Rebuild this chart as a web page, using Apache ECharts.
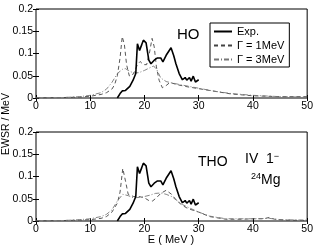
<!DOCTYPE html>
<html><head><meta charset="utf-8">
<script src="https://cdn.jsdelivr.net/npm/echarts@6/dist/echarts.min.js"></script>
<style>html,body{margin:0;padding:0;background:#fff}#c{width:316px;height:249px}</style>
</head><body><div id="c"></div>
<script>
var xTicks = [0, 10, 20, 30, 40, 50];
var yTicks = [0, 0.05, 0.1, 0.15, 0.2];
var seriesNames = ['Exp.', '\u0393 = 1MeV', '\u0393 = 3MeV'];
var panelLabels = ['HO', 'THO'];

var expE = [15,15.5,15.9,16.5,17.3,17.9,18.4,18.7,19.1,19.5,19.8,20.3,20.8,21.2,21.8,22.4,23,23.4,24,24.9,25.4,25.8,26.4,27,27.5,27.8,28.3,28.6,29,29.4,30];
var expV = [0,0.01,0.016,0.017,0.026,0.04,0.055,0.122,0.107,0.12,0.13,0.124,0.085,0.077,0.085,0.09,0.09,0.081,0.096,0.113,0.095,0.077,0.055,0.041,0.046,0.04,0.046,0.038,0.049,0.036,0.041];

var hoG1E = [0,5,8,10,12,13,14,14.5,15,15.5,15.9,16.3,16.7,17.2,17.7,18.2,18.7,19.2,19.8,20.4,20.9,21.4,21.8,22.2,22.7,23.3,24,24.7,26,28,30,33,36,40,45,50];
var hoG1V = [0,0.001,0.002,0.004,0.008,0.012,0.02,0.03,0.05,0.09,0.138,0.12,0.075,0.05,0.05,0.06,0.075,0.082,0.075,0.075,0.1,0.134,0.115,0.07,0.04,0.023,0.028,0.035,0.03,0.025,0.021,0.015,0.009,0.005,0.003,0.003];

var hoG3E = [0,5,8,10,12,13,14,15,16,16.5,17,18,19,20,21,21.7,22.3,23,24,25,27,30,33,36,40,45,50];
var hoG3V = [0,0.001,0.003,0.006,0.012,0.02,0.035,0.055,0.065,0.066,0.062,0.056,0.057,0.062,0.068,0.072,0.063,0.045,0.037,0.034,0.029,0.022,0.015,0.01,0.006,0.003,0.002];

var thoG1E = [0,5,8,10,12,13,14,15,15.5,16,16.5,17,18,19,20,20.8,21.5,22.2,23,24,25,26,27,28,30,32,35,38,40,42,43,44,46,50];
var thoG1V = [0,0.001,0.002,0.003,0.006,0.01,0.02,0.04,0.065,0.118,0.09,0.06,0.055,0.055,0.052,0.046,0.045,0.052,0.062,0.069,0.06,0.045,0.035,0.028,0.02,0.01,0.004,0.004,0.005,0.005,0.008,0.004,0.002,0.001];

var thoG3E = [0,5,8,10,12,13,14,15,16,17,18,19,20,21,22,23,24,25,26,27,28,30,32,35,38,40,43,45,50];
var thoG3V = [0,0.001,0.003,0.005,0.01,0.015,0.025,0.045,0.06,0.057,0.052,0.053,0.055,0.058,0.062,0.063,0.06,0.055,0.046,0.037,0.031,0.02,0.011,0.005,0.005,0.005,0.006,0.003,0.002];

function zip(a, b) { return a.map(function (v, i) { return [v, b[i]]; }); }

var FONT = 'Liberation Sans, Arial, sans-serif';
var grids = [
  {left: 36, top: 9, width: 272, height: 89, show: true, borderColor: '#000', borderWidth: 1, backgroundColor: '#fff'},
  {left: 36, top: 132, width: 272, height: 89, show: true, borderColor: '#000', borderWidth: 1, backgroundColor: '#fff'}
];
var xAxes = [], yAxes = [];
[0, 1].forEach(function (g) {
  xAxes.push({type: 'value', gridIndex: g, min: xTicks[0], max: xTicks[xTicks.length - 1], interval: 10, position: 'bottom',
    axisLine: {show: false}, axisTick: {show: true, inside: true, length: 3, lineStyle: {color: '#000'}},
    axisLabel: {color: '#000', fontSize: 10.5, fontFamily: FONT, margin: 3}, splitLine: {show: false}});
  xAxes.push({type: 'value', gridIndex: g, min: 0, max: 50, interval: 10, position: 'top',
    axisLine: {show: false}, axisTick: {show: true, inside: true, length: 3, lineStyle: {color: '#000'}},
    axisLabel: {show: false}, splitLine: {show: false}});
  yAxes.push({type: 'value', gridIndex: g, min: yTicks[0], max: yTicks[yTicks.length - 1], interval: 0.05, position: 'left',
    axisLine: {show: false}, axisTick: {show: true, inside: true, length: 3, lineStyle: {color: '#000'}},
    axisLabel: {color: '#000', fontSize: 10.5, fontFamily: FONT, margin: 3}, splitLine: {show: false}});
  yAxes.push({type: 'value', gridIndex: g, min: 0, max: 0.2, interval: 0.05, position: 'right',
    axisLine: {show: false}, axisTick: {show: true, inside: true, length: 3, lineStyle: {color: '#000'}},
    axisLabel: {show: false}, splitLine: {show: false}});
});

function mk(name, data, g, style) {
  return {name: name, type: 'line', xAxisIndex: g * 2, yAxisIndex: g * 2, data: data, symbol: 'none',
    lineStyle: style, itemStyle: {color: style.color}, z: style.z || 2, animation: false};
}
var solid = {color: '#000', width: 1.6, type: 'solid', z: 5};
var dash = {color: '#444', width: 0.9, type: [4, 3]};
var dashdot = {color: '#777', width: 0.9, type: [5, 2, 1, 2]};

var series = [
  mk(seriesNames[0], zip(expE, expV), 0, solid),
  mk(seriesNames[1], zip(hoG1E, hoG1V), 0, dash),
  mk(seriesNames[2], zip(hoG3E, hoG3V), 0, dashdot),
  mk(seriesNames[0], zip(expE, expV), 1, solid),
  mk(seriesNames[1], zip(thoG1E, thoG1V), 1, dash),
  mk(seriesNames[2], zip(thoG3E, thoG3V), 1, dashdot)
];

var chart = echarts.init(document.getElementById('c'), null, {renderer: 'canvas'});
chart.setOption({
  animation: false,
  backgroundColor: '#fff',
  grid: grids, xAxis: xAxes, yAxis: yAxes, series: series,
  legend: {data: seriesNames, orient: 'vertical', left: 210, top: 23, width: 84, padding: [3, 5, 2, 3],
    itemGap: 3, itemWidth: 18, itemHeight: 10, borderColor: '#000', borderWidth: 1, backgroundColor: '#fff',
    itemStyle: {opacity: 0}, 
    textStyle: {color: '#000', fontSize: 11, fontFamily: FONT}, selectedMode: false},
  graphic: [
    {type: 'text', left: 177, top: 27, style: {text: panelLabels[0], font: '15px ' + FONT, fill: '#000'}},
    {type: 'text', left: 198, top: 155, style: {text: panelLabels[1], font: '14px ' + FONT, fill: '#000'}},
    {type: 'text', left: 245, top: 152, style: {rich: {n: {fontSize: 14, fontFamily: FONT}, s: {fontSize: 9, fontFamily: FONT, verticalAlign: 'top', padding: [0, 0, 6, 0]}}, text: '{n|IV  1}{s|\u2212}', fill: '#000'}},
    {type: 'text', left: 251, top: 172, style: {rich: {n: {fontSize: 14, fontFamily: FONT}, s: {fontSize: 9, fontFamily: FONT, padding: [0, 0, 8, 0]}}, text: '{s|24}{n|Mg}', fill: '#000'}},
    {type: 'text', x: 6, y: 124, rotation: Math.PI / 2, style: {text: 'EWSR / MeV', font: '10.5px ' + FONT, fill: '#000', align: 'center', verticalAlign: 'middle'}},
    {type: 'text', x: 171, y: 240, style: {text: 'E ( MeV )', font: '11px ' + FONT, fill: '#000', align: 'center', verticalAlign: 'middle'}}
  ]
});
</script></body></html>
